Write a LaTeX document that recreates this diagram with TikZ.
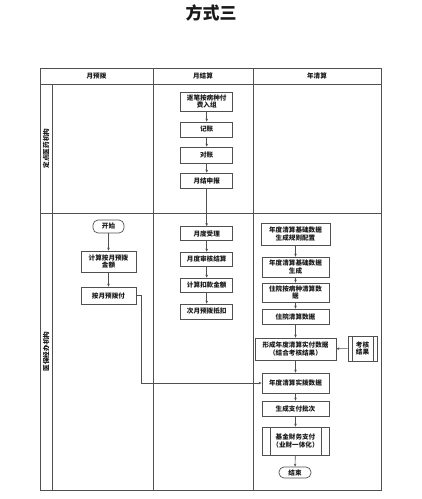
\documentclass[tikz,border=0pt]{standalone}
\usepackage{fontspec}
\setmainfont{Noto Sans CJK SC}
\usetikzlibrary{arrows.meta,positioning,calc}
\definecolor{linea}{RGB}{80,80,80}
\definecolor{texto}{RGB}{25,25,25}
\tikzset{
  marco/.style={draw=linea,line width=0.8pt},
  paso/.style={draw=linea,line width=0.7pt,fill=white,text=texto,
               font=\fontsize{6.6}{7.6}\selectfont\bfseries,align=center,inner sep=1pt},
  inicio/.style={paso,rounded corners=5pt},
  subproc/.style={paso,path picture={
      \draw[linea,line width=0.6pt]
        ([xshift=#1]path picture bounding box.north west) -- ([xshift=#1]path picture bounding box.south west)
        ([xshift=-#1]path picture bounding box.north east) -- ([xshift=-#1]path picture bounding box.south east);}},
  flecha/.style={-{Stealth[length=3pt,width=2.6pt]},draw=linea,line width=0.6pt},
  cabeza/.style={text=texto,font=\fontsize{6.6}{7.6}\selectfont\bfseries,inner sep=0pt},
  carril/.style={cabeza,rotate=90},
}
\begin{document}
\begin{tikzpicture}[x=1pt,y=-1pt]
  \useasboundingbox (0,0) rectangle (422,499);
  % titulo
  \node[text=texto,font=\fontsize{17}{20}\selectfont\bfseries] (titulo) at (211,13) {方式三};
  % tabla
  \draw[marco] (40,68) rectangle (381,490);
  \draw[marco] (40,84) -- (381,84);
  \draw[marco] (40,213) -- (381,213);
  \draw[marco] (52,84) -- (52,490);
  \draw[marco] (153,68) -- (153,490);
  \draw[marco] (253,68) -- (253,490);
  \node[cabeza] (h1) at (96.5,76) {月预拨};
  \node[cabeza] (h2) at (203,76) {月结算};
  \node[cabeza] (h3) at (317,76) {年清算};
  \node[carril] (l1) at (46,148.5) {定点医药机构};
  \node[carril] (l2) at (46,351.5) {医保经办机构};
  %月结算
  \node[paso,minimum width=52pt,minimum height=19pt] (rz1) at (206.7,101.5) {逐笔按病种付\\费入组};
  \node[paso,minimum width=52pt,minimum height=15pt] (rz2) at (206.7,129.5) {记账};
  \node[paso,minimum width=52pt,minimum height=16pt] (rz3) at (206.7,155) {对账};
  \node[paso,minimum width=52pt,minimum height=15pt] (rz4) at (206.7,180.5) {月结申报};
  \node[paso,minimum width=52pt,minimum height=14pt] (rj1) at (206.7,233.5) {月度受理};
  \node[paso,minimum width=52pt,minimum height=14pt] (rj2) at (206.7,259) {月度审核结算};
  \node[paso,minimum width=52pt,minimum height=14pt] (rj3) at (206.7,285) {计算扣款金额};
  \node[paso,minimum width=52pt,minimum height=15pt] (rj4) at (206.7,311.5) {次月预拨抵扣};
  % 月预拨
  \node[inicio,minimum width=31pt,minimum height=13pt] (ini) at (108.5,226.5) {开始};
  \node[paso,minimum width=55pt,minimum height=21pt] (yb1) at (108.5,261.5) {计算按月预拨\\金额};
  \node[paso,minimum width=55pt,minimum height=17pt] (yb2) at (108.5,295.5) {按月预拨付};
  % 年清算
  \node[paso,minimum width=69pt,minimum height=22pt] (nq1) at (295.5,234) {年度清算基础数据\\生成规则配置};
  \node[paso,minimum width=67pt,minimum height=20pt] (nq2) at (295.5,267) {年度清算基础数据\\生成};
  \node[paso,minimum width=67pt,minimum height=19pt] (nq3) at (295.5,292.5) {住院按病种清算数\\据};
  \node[paso,minimum width=67pt,minimum height=15pt] (nq4) at (295.5,316.5) {住院清算数据};
  \node[paso,minimum width=81pt,minimum height=22pt] (nq5) at (295.5,349) {形成年度清算实付数据\\（结合考核结果）};
  \node[subproc=4pt,minimum width=29pt,minimum height=25pt] (kh) at (362.5,348.5) {考核\\结果};
  \node[paso,minimum width=67pt,minimum height=20pt] (nq6) at (295.5,383) {年度清算实拨数据};
  \node[paso,minimum width=67pt,minimum height=15pt] (nq7) at (295.5,408.5) {生成支付批次};
  \node[subproc=8pt,minimum width=67pt,minimum height=28pt] (nq8) at (295.5,441) {基金财务支付\\（业财一体化）};
  \node[inicio,minimum width=32pt,minimum height=11pt] (fin) at (295,472.5) {结束};
  % conexiones
  \foreach \i/\j in {rz1/rz2,rz2/rz3,rz3/rz4,rz4/rj1,rj1/rj2,rj2/rj3,rj3/rj4,ini/yb1,yb1/yb2,
                     nq1/nq2,nq2/nq3,nq3/nq4,nq4/nq5,nq5/nq6,nq6/nq7,nq7/nq8,nq8/fin}
    \draw[flecha] (\i) -- (\j);
  \draw[flecha] (kh) -- (nq5);
  \draw[flecha] (yb2.east) -- ++(5,0) |- (nq6.west);
\end{tikzpicture}
\end{document}
